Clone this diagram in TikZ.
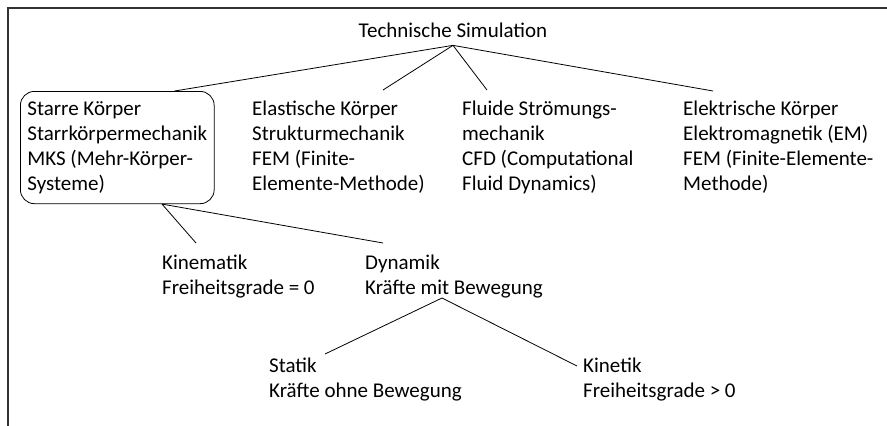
\documentclass[tikz,border=0pt]{standalone}
\usepackage{fontspec}
\setmainfont{Carlito}
\begin{document}
\begin{tikzpicture}
[
    x=1pt, y=-1pt,
    every node/.style={font=\fontsize{21}{25}\selectfont, align=left, inner sep=0pt},
    topic/.style={anchor=base, inner sep=8pt},
    area/.style={anchor=base west},
    areabox/.style={anchor=north west, draw, line width=0.8pt, rounded corners=14pt, inner xsep=7pt, inner ysep=10pt},
    edge/.style={line width=0.8pt},
]
\useasboundingbox (0,0) rectangle (887,426);
\draw[line width=1.4pt, black!80] (8,426) -- (8,8) -- (887,8);
\node[topic] (sim) at (453,37) {Technische Simulation};
\node[areabox] (starr) at (20,91) {Starre Körper\\Starrkörpermechanik\\MKS (Mehr-Körper-\\Systeme)};
\node[area] (elast) at (252,190) {Elastische Körper\\Strukturmechanik\\FEM (Finite-\\Elemente-Methode)};
\node[area] (fluid) at (462,190) {Fluide Strömungs-\\mechanik\\CFD (Computational\\Fluid Dynamics)};
\node[area] (elektr) at (683,190) {Elektrische Körper\\Elektromagnetik (EM)\\FEM (Finite-Elemente-\\Methode)};
\node[area] (kinem) at (162,294) {Kinematik\\Freiheitsgrade = 0};
\node[area] (dynam) at (365,294) {Dynamik\\Kräfte mit Bewegung};
\node[area] (statik) at (269,397) {Statik\\Kräfte ohne Bewegung};
\node[area] (kinet) at (583,397) {Kinetik\\Freiheitsgrade > 0};
\draw[edge] (sim.south) -- ([xshift=-40pt]starr.north east);
\draw[edge] (sim.south) -- ([xshift=131pt,yshift=100pt]elast.base west);
\draw[edge] (sim.south) -- ([xshift=25pt,yshift=100pt]fluid.base west);
\draw[edge] (sim.south) -- ([xshift=30pt,yshift=99pt]elektr.base west);
\draw[edge] ([xshift=142pt]starr.south west) -- ([xshift=34pt,yshift=51pt]kinem.base west);
\draw[edge] ([xshift=142pt]starr.south west) -- ([xshift=18pt,yshift=51pt]dynam.base west);
\draw[edge] ([xshift=77pt,yshift=-4pt]dynam.base west) -- ([xshift=56pt,yshift=43pt]statik.base west);
\draw[edge] ([xshift=77pt,yshift=-4pt]dynam.base west) -- ([xshift=-6pt,yshift=31pt]kinet.base west);
\end{tikzpicture}
\end{document}
